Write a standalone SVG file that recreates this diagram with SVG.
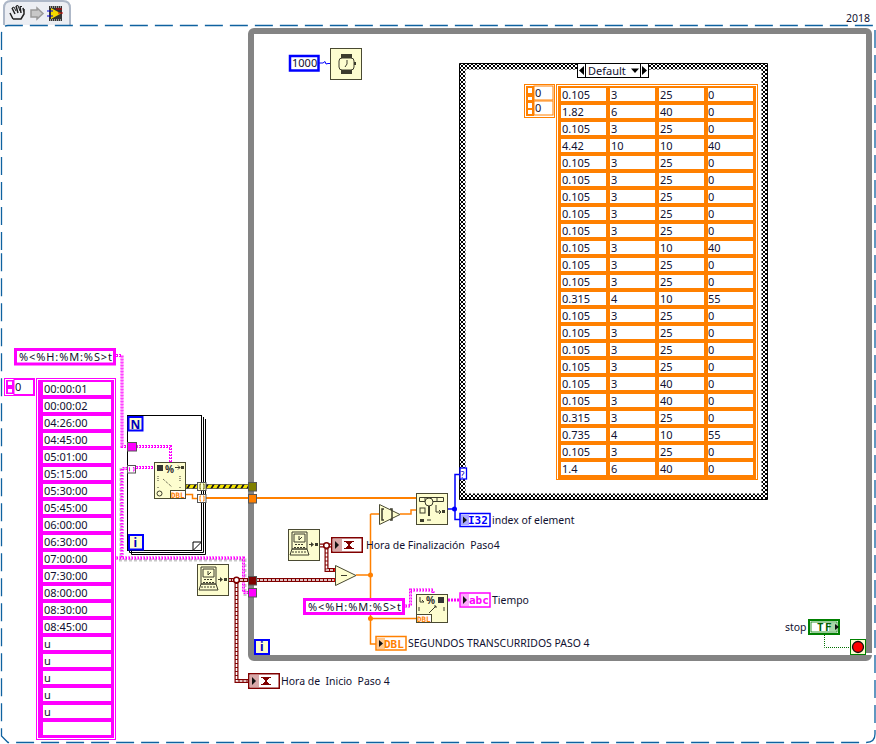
<svg xmlns="http://www.w3.org/2000/svg" width="876" height="744" viewBox="0 0 876 744">
<style>
text{font-family:"Noto Sans","Liberation Sans",sans-serif;font-size:11px;fill:#101030;white-space:pre}
.lbl{font-size:10.450px}
.node{fill:#fdfdcf;stroke:#4a4a32;stroke-width:1}
.g{fill:none;stroke:#3c3c2c;stroke-width:1}
.gf{fill:#3c3c2c;stroke:none}
.o{fill:none;stroke:#ff8000;stroke-width:2}
.ow{fill:none;stroke:#ff8000;stroke-width:1.5}
.b{fill:none;stroke:#0000ff;stroke-width:1.5}
.pw{fill:none;stroke:#ff00ff;stroke-width:3;stroke-dasharray:2 1}
.pc{fill:none;stroke:#fff;stroke-width:1;stroke-dasharray:1 2}
.ps{fill:none;stroke:#c8c8c8;stroke-width:3;stroke-dasharray:3 2}
.r{fill:none;stroke:#800000;stroke-width:4}
.ri{fill:none;stroke:#fff;stroke-width:1.6;stroke-dasharray:3 1}
.bold{font-family:"DejaVu Sans Mono","Liberation Mono",monospace;font-weight:bold;font-size:11px}
</style>
<defs>
<pattern id="chk" x="459" y="63" width="4" height="4" patternUnits="userSpaceOnUse"><rect width="4" height="4" fill="#fff"/><rect width="2" height="2" fill="#000"/><rect x="2" y="2" width="2" height="2" fill="#000"/></pattern>
<pattern id="cellO" x="561" y="88" width="49" height="17" patternUnits="userSpaceOnUse"><rect width="49" height="17" fill="#ff8000"/><rect width="45" height="13" fill="#fff"/></pattern>
<pattern id="cellP" x="43" y="382" width="68" height="17" patternUnits="userSpaceOnUse"><rect width="68" height="17" fill="#ff00ff"/><rect width="68" height="13" fill="#fff"/></pattern>
<pattern id="hz" x="186" y="484" width="6" height="5" patternUnits="userSpaceOnUse"><rect width="6" height="5" fill="#f4e400"/><path d="M0 5L3 0H5L2 5Z" fill="#111"/></pattern>
<symbol id="clock" viewBox="0 0 32 32" width="32" height="32" overflow="visible">
<rect x=".5" y=".5" width="31" height="31" class="node"/>
<path d="M4 3H19V20H4ZM6 5H17V13H6ZM2 26L4 20H19L21 26Z" class="g"/>
<path d="M7 15.500H16M6 18.500H17M4 23H19" stroke="#3c3c2c" stroke-width="1" fill="none" stroke-dasharray="2 1"/>
<path d="M11 7V11L14 8" class="g"/>
<path d="M21 15.500H25" class="g"/><path d="M23 13L26 15.500L23 18Z" class="gf"/><rect x="27" y="14" width="3" height="3" class="gf"/>
</symbol>
<symbol id="ts" viewBox="0 0 32 16" width="32" height="16" overflow="visible">
<rect x=".75" y=".75" width="30.500" height="14.500" fill="#fff" stroke="#800000" stroke-width="1.500"/>
<rect x="2" y="2" width="9" height="12" fill="#d8a8a8"/>
<path d="M4 4L8 8L4 12Z" fill="#111"/>
<path d="M15 5H21L15 11H21Z" fill="#800000" stroke="#800000"/><path d="M13 4.500H23M13 11.500H23" stroke="#800000"/>
</symbol>
</defs>
<rect width="876" height="744" fill="#fff"/>

<g id="toolbar">
<path d="M4 25V8Q4 1 11 1H63Q70 1 70 8V25" fill="#eceef3" stroke="#aeb8c8" stroke-width="2"/>
<path d="M13 19L10 13M13 19H21L24 14V9M15 14L12 8M18 13L16 6M21 13L20 6.500M24 12L23 8" fill="none" stroke="#222" stroke-width="1.500"/>
<path d="M12 8L14 7L16 11M16 6L18 5.500L20 11M20 6.500L22 6.500" fill="none" stroke="#222"/>
<path d="M31 10H37V8L43 13.500L37 19V17H31Z" fill="#c8c8c8" stroke="#999" stroke-width="1.500"/>
<rect x="49" y="6" width="13" height="15" fill="#333"/>
<path d="M50 7H61M50 20H61" stroke="#fff" stroke-dasharray="1 1"/>
<path d="M51 8L61 13.500L51 19Z" fill="#f4d800"/>
<path d="M47 11H53M47 16H53" stroke="#0000d0"/><path d="M58 13H63M56 9H62" stroke="#d00000"/>
<text x="846" y="22" style="font-size:10.500px">2018</text>
</g>
<path id="frame" d="M1.500 250V34Q1.500 25.500 8 25.500H876M875 30V734Q875 742.500 866 742.500H8L1.500 736V250" fill="none" stroke="#0f62a0" stroke-width="1.300" stroke-dasharray="18 7"/>

<g id="while-loop">
<rect x="251" y="31" width="618" height="627" rx="3" fill="#fff" stroke="#848484" stroke-width="6"/>
</g>

<g id="case-structure">
<rect x="462.500" y="66.500" width="302" height="430" fill="#fff" stroke="url(#chk)" stroke-width="6"/>
<path d="M459.500 499.500V63.500H767.500V499.500H459.500" fill="none" stroke="#000" stroke-width="1"/>
<rect x="577.500" y="63.500" width="71" height="14" fill="#fff" stroke="#000"/>
<path d="M577.500 64V77M585.500 64V77M640.500 64V77M648.500 64V77" stroke="#000"/>
<path d="M584 66L579 70.500L584 75ZM642 66L647 70.500L642 75Z" fill="#000"/>
<path d="M631 68.500H639L635 73Z" fill="#000"/>
<text x="588" y="75">Default</text>
</g>

<g id="result-array">
<rect x="524.500" y="84.500" width="30" height="33" fill="#fff" stroke="#ff8000"/>
<rect x="526" y="86" width="8" height="30" fill="#ff8000"/>
<path d="M528 88H532V93H528ZM528 97H532V100H528ZM528 103H532V108H528ZM528 110H532V114H528" fill="#fff"/>
<rect x="534" y="86" width="19" height="14" fill="#fff" stroke="#ff8000"/>
<rect x="534" y="101" width="19" height="14" fill="#fff" stroke="#ff8000"/>
<text x="535" y="97">0</text><text x="535" y="112">0</text>
<rect x="556.500" y="84.500" width="201" height="395" fill="#fff" stroke="#ff8000"/>
<rect x="558" y="86" width="198" height="393" fill="#ff8000"/>
<rect x="561" y="88" width="192" height="387" fill="url(#cellO)"/>
<g id="rows">
<text x="562" y="99">0.105</text><text x="611" y="99">3</text><text x="660" y="99">25</text><text x="708" y="99">0</text>
<text x="562" y="116">1.82</text><text x="611" y="116">6</text><text x="660" y="116">40</text><text x="708" y="116">0</text>
<text x="562" y="133">0.105</text><text x="611" y="133">3</text><text x="660" y="133">25</text><text x="708" y="133">0</text>
<text x="562" y="150">4.42</text><text x="611" y="150">10</text><text x="660" y="150">10</text><text x="708" y="150">40</text>
<text x="562" y="167">0.105</text><text x="611" y="167">3</text><text x="660" y="167">25</text><text x="708" y="167">0</text>
<text x="562" y="184">0.105</text><text x="611" y="184">3</text><text x="660" y="184">25</text><text x="708" y="184">0</text>
<text x="562" y="201">0.105</text><text x="611" y="201">3</text><text x="660" y="201">25</text><text x="708" y="201">0</text>
<text x="562" y="218">0.105</text><text x="611" y="218">3</text><text x="660" y="218">25</text><text x="708" y="218">0</text>
<text x="562" y="235">0.105</text><text x="611" y="235">3</text><text x="660" y="235">25</text><text x="708" y="235">0</text>
<text x="562" y="252">0.105</text><text x="611" y="252">3</text><text x="660" y="252">10</text><text x="708" y="252">40</text>
<text x="562" y="269">0.105</text><text x="611" y="269">3</text><text x="660" y="269">25</text><text x="708" y="269">0</text>
<text x="562" y="286">0.105</text><text x="611" y="286">3</text><text x="660" y="286">25</text><text x="708" y="286">0</text>
<text x="562" y="303">0.315</text><text x="611" y="303">4</text><text x="660" y="303">10</text><text x="708" y="303">55</text>
<text x="562" y="320">0.105</text><text x="611" y="320">3</text><text x="660" y="320">25</text><text x="708" y="320">0</text>
<text x="562" y="337">0.105</text><text x="611" y="337">3</text><text x="660" y="337">25</text><text x="708" y="337">0</text>
<text x="562" y="354">0.105</text><text x="611" y="354">3</text><text x="660" y="354">25</text><text x="708" y="354">0</text>
<text x="562" y="371">0.105</text><text x="611" y="371">3</text><text x="660" y="371">25</text><text x="708" y="371">0</text>
<text x="562" y="388">0.105</text><text x="611" y="388">3</text><text x="660" y="388">40</text><text x="708" y="388">0</text>
<text x="562" y="405">0.105</text><text x="611" y="405">3</text><text x="660" y="405">40</text><text x="708" y="405">0</text>
<text x="562" y="422">0.315</text><text x="611" y="422">3</text><text x="660" y="422">25</text><text x="708" y="422">0</text>
<text x="562" y="439">0.735</text><text x="611" y="439">4</text><text x="660" y="439">10</text><text x="708" y="439">55</text>
<text x="562" y="456">0.105</text><text x="611" y="456">3</text><text x="660" y="456">25</text><text x="708" y="456">0</text>
<text x="562" y="473">1.4</text><text x="611" y="473">6</text><text x="660" y="473">40</text><text x="708" y="473">0</text>
</g>
</g>

<g id="for-loop">
<path d="M205.500 419V554.500H131.500V551" fill="#fff" stroke="#000"/>
<path d="M203.500 417V552.500H129.500V551" fill="none" stroke="#000"/>
<rect x="127.500" y="415.500" width="74" height="135" fill="#fff" stroke="#000"/>
<path d="M193 550.500L201.500 542H193Z" fill="#fff" stroke="#000"/>
<rect x="128.500" y="417" width="14" height="13.500" fill="#fdfdcf" stroke="#0000ff" stroke-width="2"/>
<text x="130.500" y="428.500" style="font-size:12px;font-weight:bold;fill:#0000c0">N</text>
<rect x="129" y="535" width="14" height="14.500" fill="#fdfdcf" stroke="#0000ff" stroke-width="2"/>
<text x="133.500" y="547" style="font-size:12px;font-weight:bold;fill:#0000c0">i</text>
</g>

<g id="string-array-index">
<rect x="4.500" y="378.500" width="30" height="17" fill="#fff" stroke="#ff00ff"/>
<rect x="6" y="380" width="8" height="14" fill="#ff00ff"/>
<path d="M8 381.500H12V385H8ZM8 389H12V392.500H8Z" fill="#fff"/>
<rect x="14" y="379.500" width="19.500" height="15" fill="#fff" stroke="#ff00ff"/>
<text x="15" y="391">0</text>
</g>

<g id="string-array">
<rect x="36.500" y="378.500" width="79" height="361" fill="#fff" stroke="#ff00ff"/>
<rect x="38" y="380" width="76" height="358" fill="#ff00ff"/>
<rect x="43" y="382" width="68" height="353" fill="url(#cellP)"/>
<text x="44" y="393">00:00:01</text>
<text x="44" y="410">00:00:02</text>
<text x="44" y="427">04:26:00</text>
<text x="44" y="444">04:45:00</text>
<text x="44" y="461">05:01:00</text>
<text x="44" y="478">05:15:00</text>
<text x="44" y="495">05:30:00</text>
<text x="44" y="512">05:45:00</text>
<text x="44" y="529">06:00:00</text>
<text x="44" y="546">06:30:00</text>
<text x="44" y="563">07:00:00</text>
<text x="44" y="580">07:30:00</text>
<text x="44" y="597">08:00:00</text>
<text x="44" y="614">08:30:00</text>
<text x="44" y="631">08:45:00</text>
<text x="44" y="648">u</text>
<text x="44" y="665">u</text>
<text x="44" y="682">u</text>
<text x="44" y="699">u</text>
<text x="44" y="716">u</text>
</g>

<g id="connectors">
<path class="ps" d="M121 468V558"/>
<path class="ps" d="M119 560H245V596"/>
<path class="pw" d="M116 355.500H122V446.500H128"/><path class="pc" d="M116 355.500H122V446.500H128"/>
<path class="pw" d="M136 446.500H170.500V463"/><path class="pc" d="M136 446.500H170.500V463"/>
<path class="pw" d="M122 558V468.500H128"/><path class="pc" d="M122 558V468.500H128"/>
<path class="pw" d="M136 467.500H154"/><path class="pc" d="M136 467.500H154"/>
<path class="pw" d="M116 558H243.500V592.500H249"/><path class="pc" d="M116 558H243.500V592.500H249"/>
<rect x="186" y="484.500" width="12" height="4" fill="url(#hz)" stroke="#222" stroke-width=".6"/>
<rect x="206" y="484.500" width="43" height="4" fill="url(#hz)" stroke="#222" stroke-width=".6"/>
<path class="ow" d="M186 494.500H192.500V498.500H198"/>
<path class="o" d="M206 498H417"/>
<path class="ow" d="M356 575H370.500M370.500 514H379.500M370.500 514V644H376M370.500 618.500H417M400 514H411V510H417"/>
<circle cx="370.500" cy="575" r="2.500" fill="#ff8000"/><circle cx="370.500" cy="618.500" r="2.500" fill="#ff8000"/>
<path class="r" d="M228 580H335"/><path class="ri" d="M228 580H335"/>
<path class="r" d="M236.500 580V681H249"/><path class="ri" d="M236.500 580V681H249"/>
<path class="r" d="M320 545.500H331M326.500 545.500V570H335"/><path class="ri" d="M320 545.500H331M326.500 545.500V570H335"/>
<circle cx="236.500" cy="580" r="2.800" fill="#fff" stroke="#800000" stroke-width="1.500"/>
<circle cx="326.500" cy="545.500" r="2.800" fill="#fff" stroke="#800000" stroke-width="1.500"/>
<path d="M334 570h3M334 580h3" stroke="#ff0000" stroke-width="3"/>
<path class="pw" d="M405 606H410.500V590H433V595"/><path class="pc" d="M405 606H410.500V590H433V595"/>
<path class="pw" d="M448 600H460"/>
<path class="b" d="M448 509H455M460 474.500H455V519.500H460"/>
<circle cx="454.500" cy="509" r="2.500" fill="#0000ff"/>
<path d="M319 63H323L325 61.500L326 64L328 63.500H331" fill="none" stroke="#0000ff" stroke-width="1"/>
<path d="M824.500 635V647.500H851" fill="none" stroke="#007000" stroke-width="1" stroke-dasharray="1 1"/>
</g>

<g id="tunnels">
<rect x="127.500" y="442.500" width="9" height="8.500" fill="#ff00ff" stroke="#555"/>
<rect x="127.500" y="465.500" width="8" height="7.500" fill="#fff" stroke="#555"/>
<path d="M130 467.500H129.500V471H130M133 467.500H134V471H133" stroke="#ff00ff" fill="none"/>
<rect x="197.500" y="482.500" width="8.500" height="8" fill="#fdfdcf" stroke="#555"/>
<path d="M201 484H200V489H201M203 484H204V489H203" stroke="#6b6b00" fill="none"/>
<rect x="197.500" y="494.500" width="8.500" height="8" fill="#fff" stroke="#555"/>
<path d="M201 496H200V501H201M203 496H204V501H203" stroke="#ff8000" fill="none"/>
<rect x="248.500" y="482.500" width="8" height="8.500" fill="#808000" stroke="#555"/>
<rect x="248.500" y="494.500" width="8" height="8.500" fill="#ff8000" stroke="#555"/>
<rect x="248.500" y="576.500" width="8" height="8.500" fill="#800000" stroke="#555"/>
<rect x="248.500" y="588.500" width="8" height="8.500" fill="#ff00ff" stroke="#555"/>
</g>

<g id="format-string-const">
<rect x="15.500" y="349.500" width="99" height="14.500" fill="#fff" stroke="#ff00ff" stroke-width="3"/>
<text x="19" y="360.500" textLength="93">%&lt;%H:%M:%S&gt;t</text>
</g>

<g id="scan-node">
<rect x="154.500" y="462.500" width="31" height="36" class="node"/>
<rect x="157" y="465" width="6" height="6" fill="#333"/>
<text x="165" y="473" style="font-size:10px;font-weight:bold;fill:#333">%</text>
<path d="M175 467.500H180M178 465.500L180 467.500L178 469.500" class="g"/><rect x="181" y="466" width="3" height="3" class="gf"/>
<path d="M158 476V481M180 476V481M158 487V489M180 487V489M163 479L172 487" class="g" stroke-dasharray="1 1"/>
<circle cx="159.500" cy="493.500" r="2.500" class="g"/>
<rect x="170.500" y="490.500" width="15" height="8" fill="#fff" stroke="#4a4a32"/>
<text x="171" y="497.500" class="bold" style="font-size:7.500px;fill:#ff8000">DBL</text>
</g>

<g id="wait-const">
<rect x="290" y="56" width="28.500" height="14.500" fill="#fff" stroke="#0000ff" stroke-width="2.500"/>
<text x="292" y="67">1000</text>
</g>
<g id="wait-node">
<rect x="330.500" y="48.500" width="31" height="31" class="node"/>
<rect x="341" y="54" width="11" height="20" fill="#3c3c2c"/>
<rect x="339" y="58" width="15" height="12" rx="3" fill="#fdfdcf" stroke="#3c3c2c"/>
<path d="M347 60V64L345 67" class="g"/><rect x="354" y="62" width="2" height="3" class="gf"/>
</g>

<g id="get-date-1"><use href="#clock" x="288" y="529"/></g>
<g id="get-date-2"><use href="#clock" x="197" y="564"/></g>

<g id="ts-finish"><use href="#ts" x="331" y="537"/><text class="lbl" x="366" y="549">Hora de Finalización  Paso4</text></g>
<g id="ts-start"><use href="#ts" x="248" y="673"/><text class="lbl" x="281" y="685">Hora de  Inicio  Paso 4</text></g>

<g id="build-array">
<path d="M379.500 504.500L400 514.500L379.500 524.500Z" class="node"/>
<path d="M384 509H382V520H384M390 509H392V520H390" fill="none" stroke="#3c3c2c" stroke-width="1.500"/>
</g>
<g id="subtract">
<path d="M335.500 565.500L356 575.500L335.500 585.500Z" class="node"/>
<path d="M341 575.500H347" stroke="#3c3c2c"/>
</g>

<g id="search-node">
<rect x="416.500" y="493.500" width="31" height="31" class="node"/>
<path d="M419.500 497.500H443.500V501.500H419.500ZM425 497.500V501.500M431 497.500V501.500M437 497.500V501.500" class="g"/>
<circle cx="429" cy="502" r="4" fill="#fdfdcf" stroke="#3c3c2c"/>
<path d="M429 506V516" stroke="#3c3c2c" stroke-width="2"/>
<rect x="420" y="508" width="5" height="5" class="g"/>
<path d="M436 505V512H441M439 510L441 512L439 514" class="g"/><rect x="442" y="510" width="3" height="3" class="gf"/>
<rect x="420" y="519" width="4" height="3" class="gf"/><path d="M427 520H431" class="g"/>
</g>

<g id="case-selector">
<rect x="460" y="468" width="6.500" height="11" fill="#fff" stroke="#0000ff" stroke-width="1.300"/>
<text x="460.500" y="477.500" style="font-size:9px;fill:#0000c0">?</text>
</g>

<g id="i32-indicator">
<rect x="460" y="513.500" width="30" height="13" fill="#fff" stroke="#0000ff" stroke-width="1.500"/>
<rect x="461" y="515" width="8" height="10" fill="#a8a8ff"/>
<path d="M463 516.500L467 520L463 523.500Z" fill="#111"/>
<text x="468" y="524" class="bold" style="fill:#0000ff">I32</text>
<text class="lbl" x="492" y="524">index of element</text>
</g>

<g id="format-const-2">
<rect x="304.500" y="599.500" width="99" height="14" fill="#fff" stroke="#ff00ff" stroke-width="3"/>
<text x="308" y="610.500" textLength="93">%&lt;%H:%M:%S&gt;t</text>
</g>

<g id="format-node">
<rect x="416.500" y="594.500" width="31" height="28" class="node"/>
<path d="M420 597V602H424M422 600L424 602" class="g"/>
<text x="426" y="604" style="font-size:10px;font-weight:bold;fill:#333">%</text>
<rect x="438" y="597" width="6" height="6" fill="#333"/>
<path d="M419 607V611M444 607V611M429 613L436 606M434 606H436V608" class="g"/>
<rect x="416.500" y="614.500" width="15" height="8" fill="#fff" stroke="#4a4a32"/>
<text x="417" y="621.500" class="bold" style="font-size:7.500px;fill:#ff8000">DBL</text>
</g>

<g id="string-indicator">
<rect x="460" y="593" width="30" height="14" fill="#fff" stroke="#ff00ff" stroke-width="1.500"/>
<rect x="461" y="594" width="8" height="12" fill="#ffa8ff"/>
<path d="M463 596L467 600L463 604Z" fill="#111"/>
<text x="469" y="604" class="bold" style="fill:#ff00ff">abc</text>
<text class="lbl" x="492" y="604">Tiempo</text>
</g>

<g id="dbl-indicator">
<rect x="376" y="636.500" width="30" height="13.500" fill="#fff" stroke="#ff8000" stroke-width="1.500"/>
<rect x="377" y="638" width="8" height="11" fill="#ffc890"/>
<path d="M379 640L383 643.500L379 647Z" fill="#111"/>
<text x="384" y="647.500" class="bold" style="fill:#ff8000">DBL</text>
<text class="lbl" x="408" y="647">SEGUNDOS TRANSCURRIDOS PASO 4</text>
</g>

<g id="iteration">
<rect x="255" y="640" width="14" height="14" fill="#fdfdcf" stroke="#0000ff" stroke-width="2"/>
<text x="260" y="651" style="font-size:12px;font-weight:bold;fill:#0000c0">i</text>
</g>

<g id="stop-control">
<text class="lbl" x="785" y="631">stop</text>
<rect x="809" y="620" width="30" height="14" fill="#fff" stroke="#008000" stroke-width="2"/>
<rect x="811" y="622" width="26" height="10" fill="#fff" stroke="#008000" stroke-width=".8"/>
<rect x="829" y="623" width="7" height="8" fill="#a8d8a8"/>
<path d="M835 624L839 627L835 630Z" fill="#111"/>
<text x="817" y="631" class="bold" style="fill:#006000;letter-spacing:1.500px">TF</text>
</g>
<g id="stop-terminal">
<rect x="850.500" y="639.500" width="15" height="15" fill="#fdfdcf" stroke="#008000"/>
<circle cx="858" cy="647" r="5.500" fill="#ff0000" stroke="#111" stroke-width="1.300"/>
<path d="M866 653H873V655H866Z" fill="#fff"/>
</g>
</svg>
